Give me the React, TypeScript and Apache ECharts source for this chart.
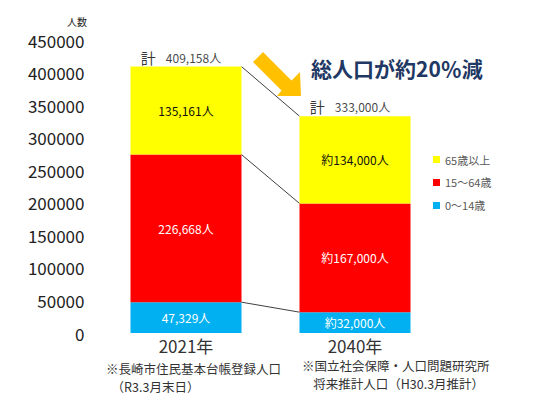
import * as echarts from 'echarts'
import { useEffect, useRef } from 'react'

// 人口データ（長崎市）
const years = ['2021年', '2040年']
const young = [47329, 32000]
const working = [226668, 167000]
const elderly = [135161, 134000]
const totals = [409158, 333000]
const approx = ['', '約']
const yTicks = { min: 0, max: 450000, interval: 50000 }

const FONT = '"Noto Sans CJK JP", "Noto Sans", sans-serif'
const BAR_W = 111

const fmt = (v: number) => v.toLocaleString('en-US')

const App = () => {
  const chartRef = useRef<HTMLDivElement | null>(null)
  useEffect(() => {
    if (!chartRef.current) return
    const myChart = echarts.init(chartRef.current, null, { renderer: 'svg' })

    // 積み上げの境目（コネクタ線用）
    const levels = [
      [0, totals[0], totals[1]],
      [0, young[0] + working[0], young[1] + working[1]],
      [0, young[0], young[1]],
    ]

    const segLabel = (color: string) => ({
      show: true,
      position: 'inside' as const,
      color,
      fontSize: 12,
      fontFamily: FONT,
    })

    const option: any = {
      animation: false,
      textStyle: { fontFamily: FONT },
      grid: { left: 101.5, right: 96.5, top: 40, bottom: 80 },
      legend: {
        data: ['65歳以上', '15～64歳', '0～14歳'],
        orient: 'vertical',
        left: 428,
        top: 149,
        itemWidth: 7,
        itemHeight: 7,
        itemGap: 12,
        icon: 'rect',
        selectedMode: false,
        textStyle: { color: '#595959', fontSize: 11, fontFamily: FONT },
      },
      xAxis: {
        type: 'category',
        data: years,
        axisLine: { show: false },
        axisTick: { show: false },
        axisLabel: { color: '#333', fontSize: 17, lineHeight: 14, fontFamily: FONT, margin: 5 },
      },
      yAxis: {
        type: 'value',
        min: yTicks.min,
        max: yTicks.max,
        interval: yTicks.interval,
        splitLine: { show: false },
        axisLine: { show: false },
        axisTick: { show: false },
        axisLabel: {
          color: '#222',
          fontSize: 17,
          lineHeight: 14,
          fontFamily: FONT,
          margin: 17,
          formatter: (v: number) => String(v),
        },
      },
      series: [
        {
          name: '0～14歳',
          type: 'bar',
          stack: 'pop',
          barWidth: BAR_W,
          itemStyle: { color: '#00B0F0' },
          label: { ...segLabel('#fff'), formatter: (p: any) => approx[p.dataIndex] + fmt(p.value) + '人' },
          data: young,
        },
        {
          name: '15～64歳',
          type: 'bar',
          stack: 'pop',
          barWidth: BAR_W,
          itemStyle: { color: '#FF0000' },
          label: { ...segLabel('#fff'), formatter: (p: any) => approx[p.dataIndex] + fmt(p.value) + '人' },
          data: working,
        },
        {
          name: '65歳以上',
          type: 'bar',
          stack: 'pop',
          barWidth: BAR_W,
          itemStyle: { color: '#FFFF00' },
          label: { ...segLabel('#111'), formatter: (p: any) => approx[p.dataIndex] + fmt(p.value) + '人' },
          data: elderly,
        },
        {
          name: 'total',
          type: 'scatter',
          symbolSize: 0,
          silent: true,
          data: totals.map((v, i) => [i, v]),
          label: {
            show: true,
            position: 'top',
            distance: 2,
            offset: [-5, 0],
            formatter: (p: any) => '{k|計}{v|' + fmt(totals[p.dataIndex]) + '人}',
            rich: {
              k: { fontSize: 15, color: '#000', fontFamily: FONT, padding: [0, 10, 0, 0] },
              v: { fontSize: 12, color: '#111', fontFamily: FONT },
            },
          },
        },
        {
          name: 'connector',
          type: 'custom',
          silent: true,
          data: levels,
          renderItem: (params: any, api: any) => {
            const p1 = api.coord([0, api.value(1)])
            const p2 = api.coord([1, api.value(2)])
            return {
              type: 'line',
              shape: { x1: p1[0] + BAR_W / 2, y1: p1[1], x2: p2[0] - BAR_W / 2, y2: p2[1] },
              style: { stroke: '#404040', lineWidth: 1 },
            }
          },
        },
      ],
      graphic: [
        {
          type: 'text',
          left: 67,
          top: 16,
          style: { text: '人数', fontSize: 10, lineHeight: 10, fill: '#222', fontFamily: FONT },
        },
        {
          type: 'polygon',
          shape: {
            points: [
              [263, 52], [291.5, 80.5], [300, 72], [301, 96], [277, 96], [281.5, 90.5], [253, 62],
            ],
          },
          style: { fill: '#FFC000' },
        },
        {
          type: 'text',
          left: 311,
          top: 57,
          style: {
            text: '総人口が約20％減',
            fontSize: 21,
            fontWeight: 'bold',
            fill: '#1F3864',
            fontFamily: FONT,
          },
        },
        {
          type: 'text',
          left: 106,
          top: 359,
          style: {
            text: '※長崎市住民基本台帳登録人口\n  （R3.3月末日）',
            fontSize: 12.5,
            lineHeight: 18,
            fill: '#333',
            fontFamily: FONT,
          },
        },
        {
          type: 'text',
          left: 302,
          top: 356,
          style: {
            text: '※国立社会保障・人口問題研究所\n    将来推計人口（H30.3月推計）',
            fontSize: 12.5,
            lineHeight: 18,
            fill: '#333',
            fontFamily: FONT,
          },
        },
      ],
    }

    myChart.setOption(option)
    return () => {
      myChart.dispose()
    }
  }, [])
  return (
    <div
      ref={chartRef}
      style={{ position: 'absolute', left: 0, top: 0, width: '536px', height: '413px' }}
    ></div>
  )
}

export default App
